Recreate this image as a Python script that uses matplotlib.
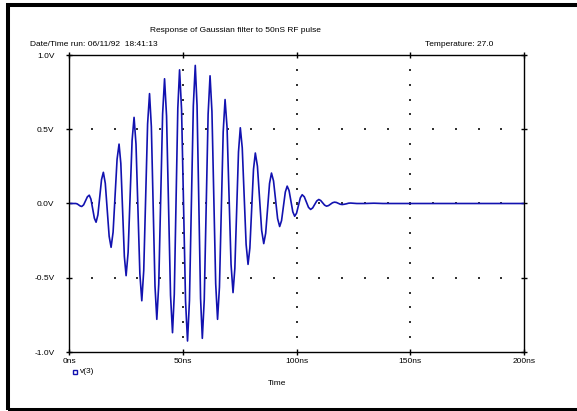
import numpy as np
import matplotlib.pyplot as plt
from matplotlib.patches import Rectangle

plt.rcParams['font.family'] = ['Liberation Sans', 'DejaVu Sans']

# v(3) (time in ns, volts)
t_ns = [0.0, 3.0, 3.65, 4.3, 4.95, 5.6, 6.43, 7.25, 8.08, 8.9, 9.65, 10.4, 11.15, 11.9,
        12.7, 13.5, 14.3, 15.1, 15.95, 16.8, 17.65, 18.5, 19.38, 20.25, 21.13, 22.0,
        22.78, 23.55, 24.33, 25.1, 25.98, 26.85, 27.73, 28.6, 29.45, 30.3, 31.15, 32.0,
        32.85, 33.7, 34.55, 35.4, 36.2, 37.0, 37.8, 38.6, 39.45, 40.3, 41.15, 42.0,
        42.88, 43.75, 44.63, 45.5, 46.28, 47.05, 47.83, 48.6, 49.48, 50.35, 51.23, 52.1,
        52.95, 53.8, 54.65, 55.5, 56.28, 57.05, 57.83, 58.6, 59.45, 60.3, 61.15, 62.0,
        62.83, 63.65, 64.48, 65.3, 66.13, 66.95, 67.78, 68.6, 69.48, 70.35, 71.23, 72.1,
        72.9, 73.7, 74.5, 75.3, 76.15, 77.0, 77.85, 78.7, 79.5, 80.3, 81.1, 81.9,
        82.83, 83.75, 84.68, 85.6, 86.45, 87.3, 88.15, 89.0, 89.9, 90.8, 91.7, 92.6,
        93.43, 94.25, 95.08, 95.9, 96.73, 97.55, 98.38, 99.2, 100.03, 100.85, 101.68, 102.5,
        103.43, 104.35, 105.28, 106.2, 107.1, 108.0, 108.9, 109.8, 110.65, 111.5, 112.35, 113.2,
        114.08, 114.95, 115.83, 116.7, 117.55, 118.4, 119.25, 120.1, 120.98, 121.95, 122.88, 123.8,
        126.5, 130.0, 134.0, 138.0, 200.0]
v3 = [0.0, 0.0, -0.003, -0.01, -0.017, -0.02, -0.009, 0.018, 0.045, 0.056, 0.029, -0.035, -0.099, -0.126,
      -0.077, 0.042, 0.161, 0.21, 0.136, -0.043, -0.221, -0.295, -0.193, 0.053, 0.298, 0.40,
      0.270, -0.043, -0.356, -0.486, -0.330, 0.047, 0.424, 0.58, 0.399, -0.038, -0.474, -0.655,
      -0.451, 0.043, 0.536, 0.74, 0.517, -0.02, -0.557, -0.78, -0.543, 0.03, 0.603, 0.84,
      0.589, -0.015, -0.619, -0.87, -0.611, 0.015, 0.641, 0.90, 0.632, -0.013, -0.658, -0.926,
      -0.654, 0.002, 0.658, 0.93, 0.661, 0.011, -0.639, -0.908, -0.649, -0.024, 0.601, 0.86,
      0.620, 0.04, -0.540, -0.78, -0.563, -0.04, 0.483, 0.70, 0.510, 0.05, -0.410, -0.60,
      -0.437, -0.045, 0.347, 0.51, 0.375, 0.05, -0.275, -0.41, -0.300, -0.035, 0.230, 0.34,
      0.251, 0.035, -0.181, -0.27, -0.200, -0.033, 0.135, 0.205, 0.152, 0.025, -0.102, -0.155,
      -0.115, -0.019, 0.077, 0.117, 0.087, 0.016, -0.056, -0.086, -0.065, -0.014, 0.038, 0.059,
      0.045, 0.010, -0.026, -0.04, -0.030, -0.007, 0.017, 0.027, 0.020, 0.005, -0.011, -0.018,
      -0.014, -0.005, 0.005, 0.009, 0.007, 0.001, -0.005, -0.007, -0.005, -0.002, 0.002, 0.003,
      0.0, 0.0, 0.002, 0.0, 0.0]

xticks = [0, 50, 100, 150, 200]
xticklabels = ['0ns', '50ns', '100ns', '150ns', '200ns']
yticks = [-1.0, -0.5, 0.0, 0.5, 1.0]
yticklabels = ['-1.0V', '-0.5V', '0.0V', '0.5V', '1.0V']

W, H = 577, 411
fig = plt.figure(figsize=(W / 100, H / 100), dpi=100)
ax = fig.add_axes([69 / W, 59 / H, 455 / W, 297 / H])

# dotted grid, PSpice style
gx = np.arange(10, 200, 10)
for gy in [0.5, 0.0, -0.5]:
    ax.plot(gx, np.full(len(gx), gy), linestyle='none', marker='s', markersize=1.5,
            color='#333333', markeredgewidth=0)
gyv = np.arange(-0.9, 0.95, 0.1)
for xv in [50, 100, 150]:
    ax.plot(np.full(len(gyv), xv), gyv, linestyle='none', marker='s', markersize=1.5,
            color='#333333', markeredgewidth=0)

ax.plot(t_ns, v3, color='#1212b0', lw=1.2)

ax.set_xlim(0, 200)
ax.set_ylim(-1.0, 1.0)
ax.set_xticks(xticks)
ax.set_xticklabels(xticklabels)
ax.set_yticks(yticks)
ax.set_yticklabels(yticklabels)
ax.tick_params(direction='inout', length=5, width=1, top=True, right=True,
               labelsize=6, colors='black')
ax.tick_params(axis='y', pad=8)
ax.tick_params(axis='x', pad=2)
for s in ax.spines.values():
    s.set_linewidth(1)

ax.set_xlabel('Time', fontsize=6)
ax.xaxis.set_label_coords((277 - 69) / 455, -0.095)

fig.text(235 / W, 1 - 34 / H, 'Response of Gaussian filter to 50nS RF pulse',
         ha='center', va='bottom', fontsize=6)
fig.text(30 / W, 1 - 48 / H, 'Date/Time run: 06/11/92  18:41:13', ha='left',
         va='bottom', fontsize=6)
fig.text(425 / W, 1 - 48 / H, 'Temperature: 27.0', ha='left', va='bottom', fontsize=6)

# legend entry
fig.text(80 / W, 1 - 375 / H, 'v(3)', ha='left', va='bottom', fontsize=6)
fig.add_artist(plt.Line2D([75 / W], [1 - 372 / H], marker='s', markersize=3,
                          markerfacecolor='none', markeredgecolor='#1212b0',
                          markeredgewidth=1, transform=fig.transFigure))

# outer frame
fig.add_artist(Rectangle((8 / W, 1.5 / H), 580 / W, 404 / H, transform=fig.transFigure,
                         fill=False, lw=2.9, edgecolor='black'))

plt.savefig('out.png', dpi=100)
